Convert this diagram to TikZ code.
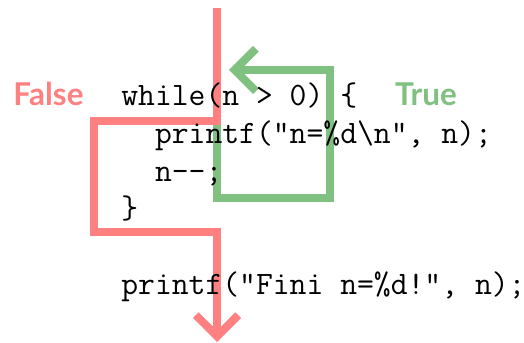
\documentclass[tikz,border=0pt]{standalone}
\usepackage{fontspec}
\newfontfamily\labelfont{Lato}
\usetikzlibrary{arrows.meta}
\definecolor{falsered}{RGB}{255,128,128}
\definecolor{truegreen}{RGB}{128,192,128}
\tikzset{
 code/.style={anchor=base west,inner sep=0pt,font=\fontsize{20.8}{24}\selectfont\ttfamily},
 branch/.style={anchor=base,inner sep=0pt,font=\fontsize{20}{24}\selectfont\labelfont\bfseries},
 flow/.style={line width=5.1pt,line join=miter,-{Straight Barb[sharp,length=13.5pt,width=27pt]}},
}
\begin{document}
\begin{tikzpicture}[x=0.636pt,y=-0.636pt]
 \useasboundingbox (0,0) rectangle (524,343);
 \coordinate (in) at (217,8);
 \coordinate (test) at (217,121);
 \coordinate (skipA) at (94,121);
 \coordinate (skipB) at (94,232);
 \coordinate (after) at (217,232);
 \coordinate (out) at (217,342);
 \coordinate (body) at (217,124);
 \coordinate (loopA) at (217,198);
 \coordinate (loopB) at (330,198);
 \coordinate (loopC) at (330,70);
 \coordinate (back) at (229,70);
 \draw[flow,truegreen](body)--(loopA)--(loopB)--(loopC)--(back);
 \draw[flow,falsered](in)--(test)--(skipA)--(skipB)--(after)--(out);
 \node[code] (cond) at (121,106) {while(n > 0) \{};
 \node[code] (print) at (121,144) {\ \ printf("n=\%d\textbackslash n", n);};
 \node[code] (decr) at (121,182) {\ \ n{-}{-};};
 \node[code] (close) at (121,219) {\}};
 \node[code] (fini) at (121,295) {printf("Fini n=\%d!", n);};
 \node[branch,text=falsered] (no) at (48.5,106) {False};
 \node[branch,text=truegreen] (yes) at (426,106) {True};
\end{tikzpicture}
\end{document}
